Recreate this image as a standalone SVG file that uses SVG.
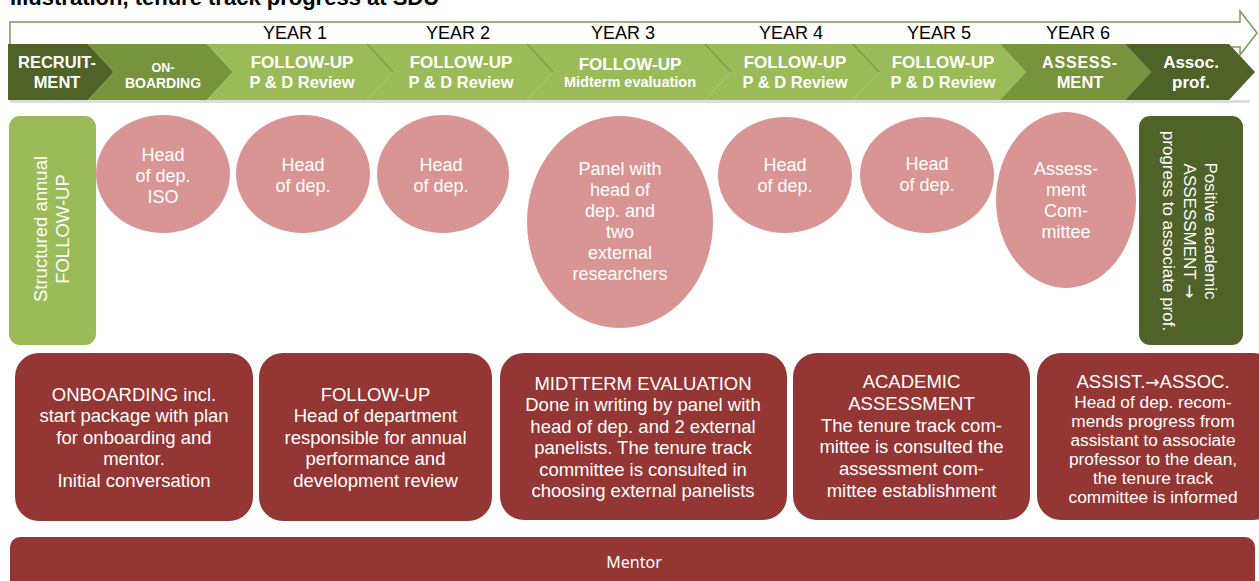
<svg xmlns="http://www.w3.org/2000/svg" width="1259" height="581" viewBox="0 0 1259 581">
<style>
.t{font-family:"Liberation Sans",Arial,sans-serif;fill:#fff;text-anchor:middle}
.b{font-weight:bold}
.ar{font-family:"DejaVu Sans",sans-serif}
.yr{font-family:"Liberation Sans",Arial,sans-serif;font-size:18px;fill:#000;text-anchor:middle}
.dk{fill:#4f6228}.md{fill:#77933c}.lt{fill:#9bbb59}
.circ{fill:#d99594}
.box{fill:#943634}
.sep{stroke:#6f8b3a;stroke-width:1.5;fill:none;opacity:.7}
</style>
<rect width="1259" height="581" fill="#fff"/>
<text x="10" y="5" font-family="Liberation Sans,Arial,sans-serif" font-weight="bold" font-size="22" fill="#000">Illustration, tenure track progress at SDU</text>

<g id="timeline-arrow">
<polygon points="10,22 1240,22 1240,11 1257,33 1240,55 1240,47 10,47" fill="#fff" stroke="#7a9a55" stroke-width="1.5"/>
<text class="yr" x="295" y="39">YEAR 1</text>
<text class="yr" x="458" y="39">YEAR 2</text>
<text class="yr" x="623" y="39">YEAR 3</text>
<text class="yr" x="791" y="39">YEAR 4</text>
<text class="yr" x="939" y="39">YEAR 5</text>
<text class="yr" x="1078" y="39">YEAR 6</text>
</g>

<rect x="10" y="100" width="1240" height="3" fill="#bbb" opacity=".5"/>
<g id="chevrons">
<g id="chev-recruit"><polygon class="dk" points="8,44 88,44 114,72 88,100 8,100"/>
<text class="t b" font-size="16.5" x="57" y="68">RECRUIT-</text><text class="t b" font-size="16.5" x="57" y="88">MENT</text></g>
<g id="chev-onboard"><polygon class="md" points="88,44 207,44 233,72 207,100 88,100 114,72"/>
<text class="t b" font-size="12.5" x="163" y="72">ON-</text><text class="t b" font-size="14" x="163" y="88">BOARDING</text></g>
<g id="chev-y1"><polygon class="lt" points="207,44 367,44 393,72 367,100 207,100 233,72"/>
<text class="t b" font-size="17" x="302" y="68">FOLLOW-UP</text><text class="t b" font-size="16.5" x="302" y="88">P &amp; D Review</text></g>
<g id="chev-y2"><polygon class="lt" points="367,44 527,44 553,72 527,100 367,100 393,72"/>
<text class="t b" font-size="17" x="461" y="68">FOLLOW-UP</text><text class="t b" font-size="16.5" x="461" y="88">P &amp; D Review</text></g>
<g id="chev-y3"><polygon class="lt" points="527,44 705,44 731,72 705,100 527,100 553,72"/>
<text class="t b" font-size="17" x="630" y="70">FOLLOW-UP</text><text class="t b" font-size="14.5" x="630" y="87">Midterm evaluation</text></g>
<g id="chev-y4"><polygon class="lt" points="705,44 853,44 879,72 853,100 705,100 731,72"/>
<text class="t b" font-size="17" x="795" y="68">FOLLOW-UP</text><text class="t b" font-size="16.5" x="795" y="88">P &amp; D Review</text></g>
<g id="chev-y5"><polygon class="lt" points="853,44 1000,44 1026,72 1000,100 853,100 879,72"/>
<text class="t b" font-size="17" x="943" y="68">FOLLOW-UP</text><text class="t b" font-size="16.5" x="943" y="88">P &amp; D Review</text></g>
<g id="chev-assess"><polygon class="md" points="1000,44 1125,44 1151,72 1125,100 1000,100 1026,72"/>
<text class="t b" font-size="16" x="1080" y="68" letter-spacing="0.8">ASSESS-</text><text class="t b" font-size="16.5" x="1080" y="88">MENT</text></g>
<g id="chev-assoc"><polygon class="dk" points="1125,44 1229,44 1255,72 1229,100 1125,100 1151,72"/>
<text class="t b" font-size="17" x="1191" y="68">Assoc.</text><text class="t b" font-size="17" x="1191" y="88">prof.</text></g>
<path class="sep" d="M367,44 L393,72 M527,44 L553,72 M705,44 L731,72 M853,44 L879,72"/>
</g>

<g id="structured-followup">
<rect x="9" y="116" width="87" height="229" rx="11" class="lt"/>
<text class="t" font-size="18.5" transform="translate(52,229) rotate(-90)"><tspan x="0" y="-5">Structured annual</tspan><tspan x="0" y="17">FOLLOW-UP</tspan></text>
</g>

<g id="positive-assessment">
<rect x="1139" y="116" width="104" height="229" rx="11" class="dk"/>
<text class="t" font-size="17" transform="translate(1190,231) rotate(90)"><tspan x="0" y="-15">Positive academic</tspan><tspan x="0" y="6">ASSESSMENT <tspan class="ar">→</tspan></tspan><tspan x="0" y="27">progress to associate prof.</tspan></text>
</g>

<g id="circle-1"><ellipse class="circ" cx="163" cy="174" rx="67" ry="59"/>
<text class="t" font-size="18"><tspan x="163" y="161">Head</tspan><tspan x="163" y="182">of dep.</tspan><tspan x="163" y="203">ISO</tspan></text></g>
<g id="circle-2"><ellipse class="circ" cx="303" cy="174" rx="67" ry="59"/>
<text class="t" font-size="18"><tspan x="303" y="171">Head</tspan><tspan x="303" y="192">of dep.</tspan></text></g>
<g id="circle-3"><ellipse class="circ" cx="443" cy="174" rx="66" ry="59"/>
<text class="t" font-size="18"><tspan x="441" y="171">Head</tspan><tspan x="441" y="192">of dep.</tspan></text></g>
<g id="circle-4"><ellipse class="circ" cx="620" cy="222" rx="93" ry="106"/>
<text class="t" font-size="18"><tspan x="620" y="175">Panel with</tspan><tspan x="620" y="196">head of</tspan><tspan x="620" y="217">dep. and</tspan><tspan x="620" y="238">two</tspan><tspan x="620" y="259">external</tspan><tspan x="620" y="280">researchers</tspan></text></g>
<g id="circle-5"><ellipse class="circ" cx="785" cy="175" rx="67" ry="58"/>
<text class="t" font-size="18"><tspan x="785" y="171">Head</tspan><tspan x="785" y="192">of dep.</tspan></text></g>
<g id="circle-6"><ellipse class="circ" cx="927" cy="175" rx="67" ry="58"/>
<text class="t" font-size="18"><tspan x="927" y="170">Head</tspan><tspan x="927" y="191">of dep.</tspan></text></g>
<g id="circle-7"><ellipse class="circ" cx="1066" cy="200" rx="70" ry="88"/>
<text class="t" font-size="18"><tspan x="1066" y="175">Assess-</tspan><tspan x="1066" y="196">ment</tspan><tspan x="1066" y="217">Com-</tspan><tspan x="1066" y="238">mittee</tspan></text></g>

<g id="box-onboarding"><rect class="box" x="15" y="353" width="238" height="168" rx="24"/>
<text class="t" font-size="18.5"><tspan x="134" y="400.5">ONBOARDING incl.</tspan><tspan x="134" y="422">start package with plan</tspan><tspan x="134" y="443.5">for onboarding and</tspan><tspan x="134" y="465">mentor.</tspan><tspan x="134" y="486.5">Initial conversation</tspan></text></g>
<g id="box-followup"><rect class="box" x="259" y="353" width="233" height="168" rx="24"/>
<text class="t" font-size="18.5"><tspan x="375.5" y="400.5">FOLLOW-UP</tspan><tspan x="375.5" y="422">Head of department</tspan><tspan x="375.5" y="443.5">responsible for annual</tspan><tspan x="375.5" y="465">performance and</tspan><tspan x="375.5" y="486.5">development review</tspan></text></g>
<g id="box-midterm"><rect class="box" x="500" y="353" width="287" height="167" rx="24"/>
<text class="t" font-size="18.5"><tspan x="643" y="389.5">MIDTTERM EVALUATION</tspan><tspan x="643" y="411">Done in writing by panel with</tspan><tspan x="643" y="432.5">head of dep. and 2 external</tspan><tspan x="643" y="454">panelists. The tenure track</tspan><tspan x="643" y="475.5">committee is consulted in</tspan><tspan x="643" y="497">choosing external panelists</tspan></text></g>
<g id="box-academic"><rect class="box" x="793" y="353" width="237" height="167" rx="24"/>
<text class="t" font-size="18.5"><tspan x="911.5" y="387.5">ACADEMIC</tspan><tspan x="911.5" y="409.5">ASSESSMENT</tspan><tspan x="911.5" y="431.5">The tenure track com-</tspan><tspan x="911.5" y="452.5">mittee is consulted the</tspan><tspan x="911.5" y="474.5">assessment com-</tspan><tspan x="911.5" y="496.5">mittee establishment</tspan></text></g>
<g id="box-assist"><rect class="box" x="1037" y="353" width="240" height="167" rx="24"/>
<text class="t" font-size="18.5"><tspan x="1153" y="387.5">ASSIST.<tspan class="ar" font-size="17">→</tspan>ASSOC.</tspan></text>
<text class="t" font-size="17.3"><tspan x="1153" y="408">Head of dep. recom-</tspan><tspan x="1153" y="427">mends progress from</tspan><tspan x="1153" y="446">assistant to associate</tspan><tspan x="1153" y="465">professor to the dean,</tspan><tspan x="1153" y="484">the tenure track</tspan><tspan x="1153" y="503">committee is informed</tspan></text></g>

<g id="mentor"><rect class="box" x="10" y="537" width="1245" height="70" rx="10"/>
<text x="634" y="568" font-family="Noto Sans,sans-serif" font-size="16" fill="#fff" text-anchor="middle">Mentor</text></g>
</svg>
